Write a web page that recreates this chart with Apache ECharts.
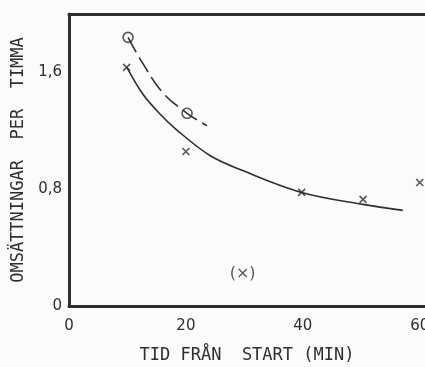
<!DOCTYPE html>
<html><head><meta charset="utf-8">
<script src="https://cdn.jsdelivr.net/npm/echarts@6/dist/echarts.min.js"></script>
<style>html,body{margin:0;padding:0;background:#fbfbfb}#c{width:425px;height:367px}</style>
</head><body><div id="c"></div>
<script>
// x-axis tick values (min) and y-axis tick values
const xTicks = [0, 20, 40, 60];
const yTicks = [0, 0.8, 1.6];
// measured points (crosses)
const crossX = [9.86, 20.0, 39.8, 50.3, 60.0];
const crossY = [1.634, 1.058, 0.778, 0.73, 0.846];
// measured points (circles)
const circleX = [10.1, 20.2];
const circleY = [1.84, 1.32];
// fitted curve through crosses (solid)
const solidX = [9.9, 12.65, 15.56, 18.46, 24.1, 29.7, 39.8, 50.3, 57.1];
const solidY = [1.634, 1.45, 1.315, 1.205, 1.031, 0.928, 0.778, 0.696, 0.655];
// fitted curve through circles (dashed)
const dashX = [10.1, 12.65, 16.07, 20.2, 23.6];
const dashY = [1.84, 1.66, 1.46, 1.32, 1.235];
// annotation
const noteText = '(×)';
const notePos = [29.7, 0.22];

const ink = '#2e2e2e';
const font = '"DejaVu Sans", sans-serif';
const mono = '"DejaVu Sans Mono", monospace';
const zip = (a, b) => a.map((v, i) => [v, b[i]]);
const crossPath = 'path://M0,0L10,10M10,0L0,10';
const frame = {show: true, lineStyle: {color: ink, width: 3}};

const chart = echarts.init(document.getElementById('c'), null, {renderer: 'canvas'});
chart.setOption({
  backgroundColor: '#fbfbfb',
  animation: false,
  grid: {left: 69, top: 14, right: 0, bottom: 61, containLabel: false, outerBoundsMode: 'none'},
  xAxis: [{
    type: 'value', min: 0, max: 60.9, interval: 20, position: 'bottom',
    axisLine: frame, axisTick: {show: false}, splitLine: {show: false},
    axisLabel: {color: ink, fontFamily: font, fontSize: 15, margin: 13, showMaxLabel: false, hideOverlap: false,
      formatter: v => xTicks.includes(v) ? String(v) : ''},
    name: 'TID FRÅN  START (MIN)', nameLocation: 'middle', nameGap: 41,
    nameTextStyle: {color: ink, fontFamily: mono, fontSize: 17}
  }, {
    type: 'value', min: 0, max: 60.9, position: 'top',
    axisLine: frame, axisTick: {show: false}, axisLabel: {show: false}, splitLine: {show: false}
  }],
  yAxis: {
    type: 'value', min: 0, max: 2.0, interval: 0.8,
    axisLine: frame, axisTick: {show: false}, splitLine: {show: false},
    axisLabel: {color: ink, fontFamily: font, fontSize: 15, margin: 7, showMaxLabel: false,
      formatter: v => yTicks.some(t => Math.abs(t - v) < 1e-6) ? String(Math.round(v * 10) / 10).replace('.', ',') : ''},
    name: 'OMSÄTTNINGAR  PER  TIMMA', nameLocation: 'middle', nameGap: 40, nameRotate: 90,
    nameTextStyle: {color: ink, fontFamily: mono, fontSize: 17}
  },
  series: [
    {type: 'line', data: zip(solidX, solidY), smooth: 0.35, showSymbol: false,
      lineStyle: {color: ink, width: 1.6}},
    {type: 'line', data: zip(dashX, dashY), smooth: 0.4, showSymbol: false,
      lineStyle: {color: ink, width: 1.6, type: [17, 6]}},
    {type: 'scatter', data: zip(crossX, crossY), symbol: crossPath, symbolSize: 7,
      itemStyle: {color: 'none', borderColor: ink, borderWidth: 1.6}},
    {type: 'scatter', data: zip(circleX, circleY), symbol: 'circle', symbolSize: 10,
      itemStyle: {color: 'rgba(0,0,0,0)', borderColor: ink, borderWidth: 1.6}},
    {type: 'scatter', data: [notePos], symbolSize: 0,
      label: {show: true, position: 'inside', formatter: noteText, color: ink, fontFamily: font, fontSize: 16}}
  ]
});
</script></body></html>
